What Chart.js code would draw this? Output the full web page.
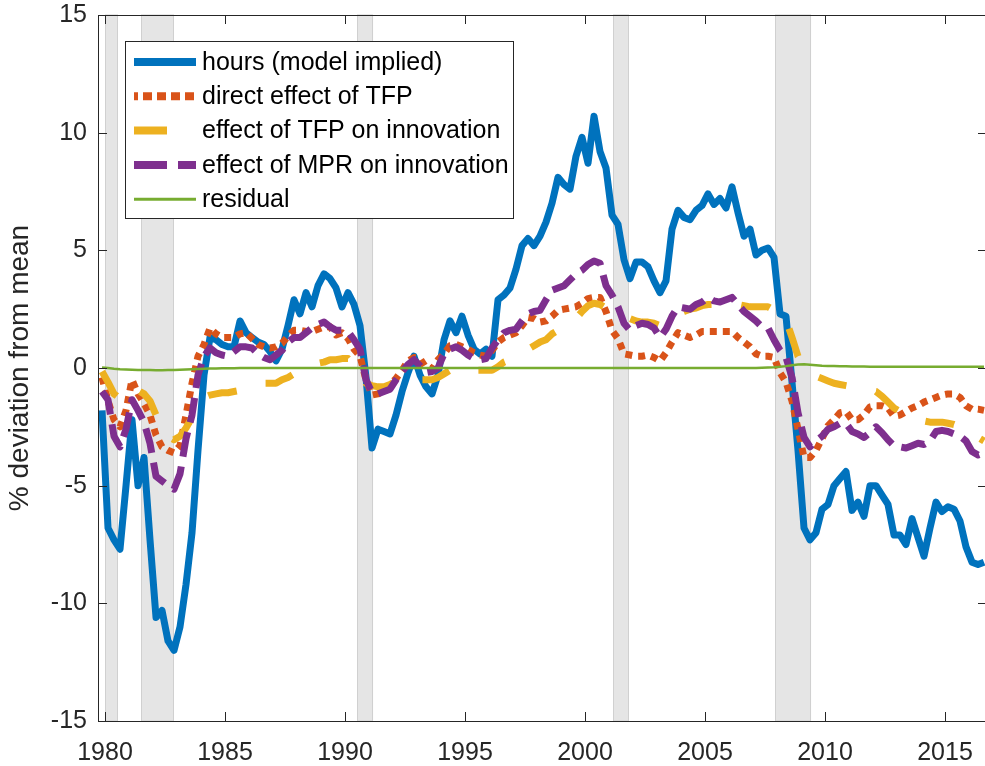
<!DOCTYPE html>
<html>
<head>
<meta charset="utf-8">
<script src="https://cdn.jsdelivr.net/npm/chart.js@4.4.1/dist/chart.umd.min.js"></script>
<style>
  html, body { margin: 0; padding: 0; background: #fff; overflow: hidden; }
  canvas { display: block; }
</style>
</head>
<body>
<canvas id="chart" width="988" height="766"></canvas>
<script>
// quarterly observations, first one is 1979Q4 (plotted at mid-quarter)
const firstQuarter = 1979.875;

const hours = [
  -1.8, -6.8, -7.3, -7.7, -5.0, -2.2, -5.0, -3.8, -7.3, -10.6,
  -10.3, -11.6, -12.0, -11.0, -9.2, -7.0, -3.5, -0.3, 1.3, 1.2,
  1.0, 0.9, 0.9, 2.0, 1.5, 1.3, 1.1, 1.0, 0.7, 0.3,
  0.8, 1.8, 2.9, 2.3, 3.2, 2.6, 3.5, 4.0, 3.8, 3.4,
  2.6, 3.2, 2.7, 1.8, -0.4, -3.4, -2.6, -2.7, -2.8, -2.0,
  -1.0, -0.2, 0.5, -0.3, -0.8, -1.1, -0.3, 1.2, 2.0, 1.5,
  2.2, 1.4, 0.8, 0.6, 0.8, 0.5, 2.9, 3.1, 3.4, 4.2,
  5.2, 5.5, 5.2, 5.6, 6.2, 7.0, 8.1, 7.8, 7.6, 9.0,
  9.8, 8.7, 10.7, 9.2, 8.5, 6.5, 6.1, 4.6, 3.8, 4.5,
  4.5, 4.3, 3.7, 3.2, 3.7, 5.9, 6.7, 6.4, 6.3, 6.7,
  6.9, 7.4, 6.95, 7.2, 6.8, 7.7, 6.6, 5.6, 5.9, 4.8,
  5.0, 5.1, 4.7, 2.3, 2.2, -0.6, -3.5, -6.8, -7.3, -7.0,
  -6.0, -5.8, -5.0, -4.7, -4.4, -6.05, -5.7, -6.3, -5.0, -5.0,
  -5.4, -5.8, -7.1, -7.1, -7.5, -6.4, -7.2, -8.0, -6.8, -5.7,
  -6.1, -5.9, -6.0, -6.5, -7.6, -8.25, -8.35, -8.25
];

const directTFP = [
  -0.4, -1.4, -2.2, -2.5, -1.8, -0.5, -1.1, -1.5, -2.0, -2.85,
  -3.35, -3.5, -3.6, -3.3, -2.0, -0.65, 0.5, 1.0, 1.7, 1.45,
  1.3, 1.3, 1.3, 1.45, 1.5, 1.25, 1.0, 0.9, 0.85, 0.9,
  1.05, 1.35, 1.6, 1.6, 1.55, 1.55, 1.65, 1.75, 1.75, 1.4,
  1.5, 1.25, 0.8, 0.5, -0.5, -1.15, -1.1, -0.95, -0.7, -0.45,
  -0.1, 0.3, 0.45, 0.4, 0.0, -0.05, 0.35, 0.6, 0.95, 1.0,
  0.9, 0.8, 0.65, 0.55, 0.5, 0.75, 1.1, 1.3, 1.4, 1.5,
  1.8, 2.15, 2.1, 1.95, 2.0, 2.2, 2.45, 2.5, 2.55, 2.6,
  2.75, 2.95, 3.0, 3.0, 2.4, 1.6, 1.25, 0.6, 0.55, 0.5,
  0.5, 0.55, 0.45, 0.3, 0.65, 1.1, 1.5, 1.4, 1.3, 1.4,
  1.55, 1.55, 1.55, 1.55, 1.55, 1.55, 1.3, 1.1, 0.9, 0.6,
  0.5, 0.5, 0.45, -0.2, -0.6, -1.4, -2.6, -3.8, -3.8, -3.5,
  -3.0, -2.45, -2.2, -1.9, -1.85, -2.2, -2.2, -2.0, -1.65, -1.6,
  -1.6, -1.7, -2.05, -2.0, -1.85, -1.7, -1.6, -1.45, -1.35, -1.25,
  -1.15, -1.1, -1.1, -1.25, -1.6, -1.75, -1.75, -1.8
];

const tfpInnovation = [
  -0.15, -0.6, -1.1, -1.3, -1.1, -0.8, -0.95, -1.1, -1.4, -2.0,
  -2.5, -2.9, -3.05, -2.9, -2.55, -2.1, -1.7, -1.25, -1.15, -1.1,
  -1.05, -1.05, -1.0, -0.95, -0.9, -0.85, -0.75, -0.65, -0.65, -0.65,
  -0.5, -0.4, -0.25, -0.1, 0.0, 0.1, 0.2, 0.25, 0.35, 0.35,
  0.4, 0.4, 0.1, -0.2, -0.65, -0.75, -0.8, -0.8, -0.7, -0.55,
  -0.5, -0.5, -0.5, -0.5, -0.5, -0.5, -0.4, -0.25, -0.1, 0.0,
  -0.05, -0.1, -0.1, -0.1, -0.1, -0.1, 0.05, 0.25, 0.35, 0.5,
  0.65, 0.8, 0.95, 1.1, 1.2, 1.45, 1.6, 1.75, 1.9, 2.1,
  2.4, 2.65, 2.75, 2.7, 2.55, 2.35, 2.25, 2.15, 2.1, 2.0,
  1.95, 1.95, 1.9, 1.8, 1.9, 2.2, 2.3, 2.4, 2.5, 2.55,
  2.65, 2.7, 2.7, 2.75, 2.75, 2.75, 2.7, 2.65, 2.6, 2.6,
  2.6, 2.6, 2.45, 2.35, 2.05, 1.3, 0.5, 0.15, -0.15, -0.35,
  -0.45, -0.55, -0.65, -0.7, -0.75, -0.8, -0.85, -0.9, -0.95, -1.0,
  -1.2, -1.45, -1.7, -1.85, -2.0, -2.1, -2.2, -2.25, -2.3, -2.3,
  -2.3, -2.35, -2.4, -2.5, -2.6, -2.8, -2.95, -3.1
];

const mprInnovation = [
  -1.0, -1.35, -2.9, -3.35, -2.6, -1.35, -1.8, -2.3, -3.2, -4.6,
  -4.8, -5.0, -5.15, -4.5, -3.0, -2.0, -0.3, 0.5, 0.85, 0.65,
  0.55, 0.5, 0.7, 0.9, 0.9, 0.85, 0.6, 0.45, 0.35, 0.55,
  0.75, 1.1, 1.3, 1.3, 1.5, 1.7, 1.85, 1.95, 1.75, 1.6,
  1.6, 1.55, 1.2, 0.8, -0.5, -1.05, -1.1, -1.0, -0.9, -0.5,
  -0.15, 0.15, 0.35, 0.1, -0.2, -0.15, 0.0, 0.6, 0.8, 0.9,
  0.75, 0.55, 0.4, 0.35, 0.4, 0.85, 1.2, 1.5, 1.6, 1.65,
  2.0, 2.3, 2.4, 2.45, 2.9, 3.3, 3.4, 3.5, 3.75, 4.0,
  4.15, 4.4, 4.55, 4.45, 3.5, 3.1, 2.6, 1.9, 1.6, 1.8,
  1.9, 1.85, 1.7, 1.3, 1.65, 2.2, 2.6, 2.55, 2.5, 2.7,
  2.8, 3.0, 2.85, 2.8, 2.9, 3.0, 2.7, 2.4, 2.2, 2.0,
  1.75, 1.7, 1.2, 0.75, 0.45, -0.4, -1.9, -2.95, -3.35, -3.1,
  -2.9, -2.6, -2.5, -2.35, -2.35, -2.7, -2.8, -2.95, -2.75, -2.5,
  -2.75, -3.05, -3.3, -3.35, -3.4, -3.3, -3.2, -3.25, -3.1, -2.7,
  -2.65, -2.7, -2.8, -2.9, -3.1, -3.55, -3.7, -3.6
];

const residual = [
  0.02, 0.0, -0.03, -0.05, -0.06, -0.07, -0.08, -0.08, -0.09, -0.1,
  -0.1, -0.09, -0.08, -0.07, -0.06, -0.05, -0.04, -0.03, -0.02, -0.02,
  -0.01, -0.01, -0.01, 0.0, 0.0, 0.0, 0.0, 0.0, 0.0, 0.0,
  0.0, 0.0, 0.0, 0.0, 0.0, 0.0, 0.0, 0.0, 0.0, 0.0,
  0.0, 0.0, 0.0, 0.0, 0.0, 0.0, 0.0, 0.0, 0.0, 0.0,
  0.0, 0.0, 0.0, 0.0, 0.0, 0.0, 0.0, 0.0, 0.0, 0.0,
  0.0, 0.0, 0.0, 0.0, 0.0, 0.0, 0.0, 0.0, 0.0, 0.0,
  0.0, 0.0, 0.0, 0.0, 0.0, 0.0, 0.0, 0.0, 0.0, 0.0,
  0.0, 0.0, 0.0, 0.0, 0.0, 0.0, 0.0, 0.0, 0.0, 0.0,
  0.0, 0.0, 0.0, 0.0, 0.0, 0.0, 0.0, 0.0, 0.0, 0.0,
  0.0, 0.0, 0.0, 0.0, 0.0, 0.0, 0.0, 0.0, 0.0, 0.0,
  0.01, 0.02, 0.03, 0.05, 0.08, 0.12, 0.15, 0.16, 0.14, 0.12,
  0.1, 0.09, 0.08, 0.07, 0.07, 0.06, 0.06, 0.06, 0.05, 0.05,
  0.05, 0.05, 0.05, 0.05, 0.05, 0.05, 0.05, 0.05, 0.05, 0.05,
  0.05, 0.05, 0.05, 0.05, 0.05, 0.05, 0.05, 0.05
];

// NBER recessions, [start, end] in years
const recessions = [
  [1980.0, 1980.54], [1981.5, 1982.875], [1990.5, 1991.17],
  [2001.17, 2001.83], [2007.92, 2009.42]
];

const yearTicks = [1980, 1985, 1990, 1995, 2000, 2005, 2010, 2015];
const valueTicks = [-15, -10, -5, 0, 5, 10, 15];

const axisColor = '#262626';
const fontFamily = '"Liberation Sans", Arial, Helvetica, sans-serif';

function toPoints(values) {
  return values.map((v, i) => ({ x: firstQuarter + i * 0.25, y: v }));
}

const framePlugin = {
  id: 'frame',
  beforeDatasetsDraw(chart) {
    const { ctx, chartArea: a, scales: { x } } = chart;
    ctx.save();
    recessions.forEach(([s, e]) => {
      const l = x.getPixelForValue(s);
      const r = x.getPixelForValue(e);
      ctx.fillStyle = '#e5e5e5';
      ctx.fillRect(l, a.top, r - l, a.bottom - a.top);
      ctx.strokeStyle = '#d0d0d0';
      ctx.lineWidth = 1;
      ctx.strokeRect(Math.round(l) + 0.5, a.top, Math.round(r - l) - 1, a.bottom - a.top);
    });
    ctx.restore();
  },
  afterDraw(chart) {
    const { ctx, chartArea: a, scales: { x, y } } = chart;
    ctx.save();
    // axes box and inward ticks
    ctx.strokeStyle = axisColor;
    ctx.lineWidth = 1;
    ctx.strokeRect(a.left + 0.5, a.top + 0.5, a.right - a.left - 1, a.bottom - a.top);
    const tl = 9;
    ctx.beginPath();
    yearTicks.forEach(v => {
      const px = Math.round(x.getPixelForValue(v)) + 0.5;
      ctx.moveTo(px, a.bottom); ctx.lineTo(px, a.bottom - tl);
      ctx.moveTo(px, a.top); ctx.lineTo(px, a.top + tl);
    });
    valueTicks.forEach(v => {
      const py = Math.round(y.getPixelForValue(v)) + 0.5;
      ctx.moveTo(a.left, py); ctx.lineTo(a.left + tl, py);
      ctx.moveTo(a.right, py); ctx.lineTo(a.right - tl, py);
    });
    ctx.stroke();

    // legend box
    const bx = a.left + 27, by = a.top + 26, bw = 388, bh = 177;
    ctx.fillStyle = '#fff';
    ctx.fillRect(bx, by, bw, bh);
    ctx.strokeRect(bx + 0.5, by + 0.5, bw, bh);
    ctx.font = '25px ' + fontFamily;
    ctx.textBaseline = 'middle';
    ctx.textAlign = 'left';
    chart.data.datasets.forEach((ds, k) => {
      const ry = by + 21 + k * 34.3;
      ctx.save();
      ctx.beginPath();
      ctx.rect(bx + 9, ry - 10, 62, 20);
      ctx.clip();
      ctx.strokeStyle = ds.borderColor;
      ctx.lineWidth = ds.legendWidth || ds.borderWidth;
      ctx.setLineDash(ds.legendDash || []);
      ctx.lineDashOffset = ds.legendDashOffset || 0;
      ctx.lineCap = 'butt';
      ctx.beginPath();
      ctx.moveTo(bx + 9, ry);
      ctx.lineTo(bx + 71, ry);
      ctx.stroke();
      ctx.restore();
      ctx.fillStyle = '#000';
      ctx.fillText(ds.label, bx + 77, ry + 1);
    });
    ctx.restore();
  }
};

const lineDefaults = {
  pointRadius: 0,
  tension: 0,
  fill: false,
  borderJoinStyle: 'round',
  borderCapStyle: 'butt'
};

new Chart(document.getElementById('chart').getContext('2d'), {
  type: 'line',
  data: {
    datasets: [
      { ...lineDefaults, label: 'hours (model implied)', data: toPoints(hours),
        borderColor: '#0072BD', borderWidth: 7, legendWidth: 8, order: 5 },
      { ...lineDefaults, label: 'direct effect of TFP', data: toPoints(directTFP),
        borderColor: '#D95319', borderWidth: 7, legendWidth: 8, borderDash: [7, 6],
        legendDash: [9, 5], legendDashOffset: -9, order: 4 },
      { ...lineDefaults, label: 'effect of TFP on innovation', data: toPoints(tfpInnovation),
        borderColor: '#EDB120', borderWidth: 7, legendWidth: 8, borderDash: [29, 30],
        legendDash: [33, 60], order: 3 },
      { ...lineDefaults, label: 'effect of MPR on innovation', data: toPoints(mprInnovation),
        borderColor: '#7E2F8E', borderWidth: 7, legendWidth: 8, borderDash: [25, 10],
        legendDash: [33, 11], order: 2 },
      { ...lineDefaults, label: 'residual', data: toPoints(residual),
        borderColor: '#77AC30', borderWidth: 2.5, legendWidth: 3, order: 1 }
    ]
  },
  options: {
    responsive: false,
    animation: false,
    devicePixelRatio: 1,
    layout: { padding: { top: 15, right: 1, left: 0, bottom: 0 } },
    plugins: { legend: { display: false }, tooltip: { enabled: false } },
    scales: {
      x: {
        type: 'linear',
        min: 1979.708,
        max: 2016.75,
        grid: { display: false, drawTicks: false },
        border: { display: false },
        afterBuildTicks: s => { s.ticks = yearTicks.map(v => ({ value: v })); },
        afterFit: s => { s.height = 45; s.paddingLeft = 0; s.paddingRight = 0; },
        ticks: {
          autoSkip: false, maxRotation: 0, padding: 17,
          color: axisColor, font: { family: fontFamily, size: 25 },
          callback: v => String(v)
        }
      },
      y: {
        min: -15,
        max: 15,
        grid: { display: false, drawTicks: false },
        border: { display: false },
        afterBuildTicks: s => { s.ticks = valueTicks.map(v => ({ value: v })); },
        afterFit: s => { s.width = 98; s.paddingTop = 0; s.paddingBottom = 0; },
        ticks: {
          padding: 11,
          color: axisColor, font: { family: fontFamily, size: 25 },
          callback: v => String(v)
        },
        title: {
          display: true,
          text: '% deviation from mean',
          color: axisColor,
          font: { family: fontFamily, size: 28 },
          padding: { top: 3, bottom: 0 }
        }
      }
    }
  },
  plugins: [framePlugin]
});
</script>
</body>
</html>
